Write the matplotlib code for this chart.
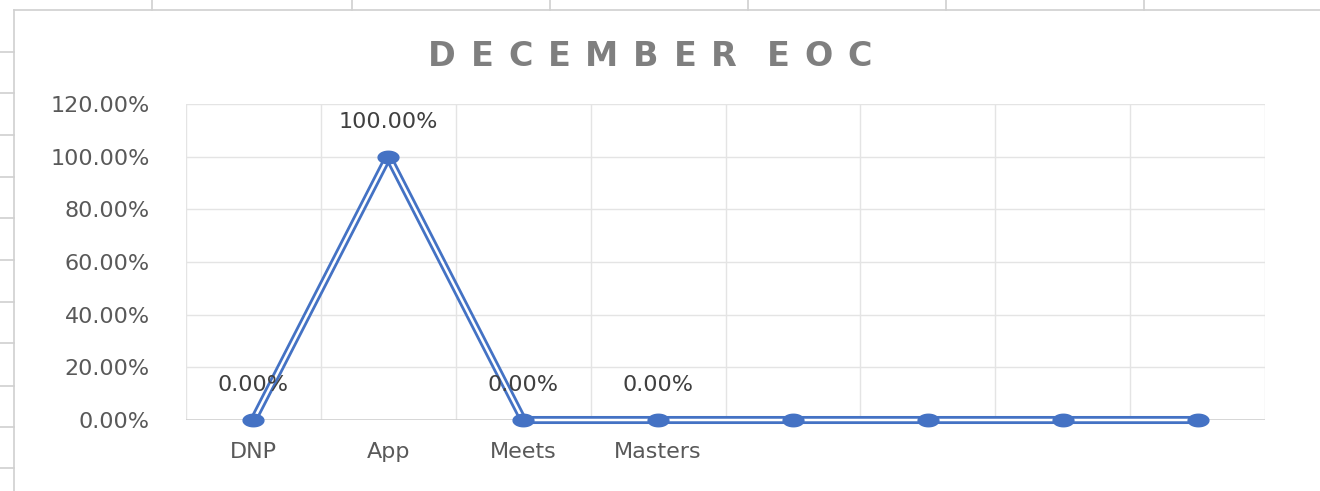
import numpy as np
import matplotlib.pyplot as plt
from matplotlib.lines import Line2D
from matplotlib.path import Path

# data
categories = ["DNP", "App", "Meets", "Masters", "", "", "", ""]
values = [0.0, 1.0, 0.0, 0.0, 0.0, 0.0, 0.0, 0.0]
labelled = [True, True, True, True, False, False, False, False]
yticks = [0.0, 0.2, 0.4, 0.6, 0.8, 1.0, 1.2]
title = "DECEMBER EOC"

blue = "#4472C4"
txt = "#595959"
grid = "#E4E4E4"
sheet = "#D0D0D0"

plt.rcParams['font.family'] = ['DejaVu Sans']

fig = plt.figure(figsize=(13.2, 4.91), dpi=100)
W, H = 1320, 491

# spreadsheet cell lines behind the chart
def fline(x0, y0, x1, y1):
    fig.add_artist(Line2D([x0 / W, x1 / W], [1 - y0 / H, 1 - y1 / H],
                          color=sheet, lw=1.2, zorder=0))

fline(14, 10, W, 10)
fline(14, 10, 14, H)
for x in [152, 352, 550, 748, 946, 1144]:
    fline(x, 0, x, 10)
for y in [52, 93, 135, 177, 218, 260, 302, 343, 386, 427, 468]:
    fline(0, y, 14, y)

ax = fig.add_axes([186 / W, 71 / H, 1079 / W, 316 / H])
x = list(range(len(categories)))

ax.set_xlim(-0.5, len(categories) - 0.5)
ax.set_ylim(0, 1.2)
ax.set_yticks(yticks)
ax.set_yticklabels(["%.2f%%" % (v * 100) for v in yticks])
ax.set_xticks(x)
ax.set_xticklabels(categories)

# gridlines between categories and at each y tick
for k in range(len(categories) + 1):
    ax.axvline(k - 0.5, color=grid, lw=1, zorder=0)
for v in yticks[1:]:
    ax.axhline(v, color=grid, lw=1, zorder=0)

for s in ax.spines.values():
    s.set_visible(False)
ax.axhline(0, color="#CFCFCF", lw=1.2, zorder=1)

ax.tick_params(axis='both', length=0, colors=txt, labelsize=16)
ax.tick_params(axis='y', pad=26)
ax.tick_params(axis='x', pad=16)

# wide oval marker like the stretched screenshot
t = np.linspace(0, 2 * np.pi, 40)
oval = Path(np.column_stack([np.cos(t), 0.6 * np.sin(t)]), closed=True)

# double (compound) line
ax.plot(x, values, color=blue, lw=5.8, zorder=3, clip_on=False)
ax.plot(x, values, color="white", lw=1.8, zorder=4, clip_on=False)
ax.plot(x, values, linestyle='none', marker=oval, color=blue, ms=15, mec=blue,
        zorder=5, clip_on=False)

for xi, v, show in zip(x, values, labelled):
    if show:
        ax.annotate("%.2f%%" % (v * 100), (xi, v), xytext=(0, 35),
                    textcoords='offset pixels', ha='center', va='center',
                    fontsize=16, color="#404040", zorder=6)

# letter-spaced title spread over the same width as in the reference
fig.canvas.draw()
r = fig.canvas.get_renderer()
widths = []
for ch in title:
    tt = fig.text(0, 0, ch if ch != " " else "n", fontsize=24, fontweight='bold')
    w = tt.get_window_extent(r).width
    tt.remove()
    widths.append(0 if ch == " " else w)
gap = (444 - sum(widths)) / (len(title) - 1)
xp = 428
for ch, w in zip(title, widths):
    if ch != " ":
        fig.text(xp / W, 1 - 57 / H, ch, ha='left', va='center',
                 fontsize=24, fontweight='bold', color="#7F7F7F")
    xp += w + gap

fig.savefig("out.png", dpi=100)
